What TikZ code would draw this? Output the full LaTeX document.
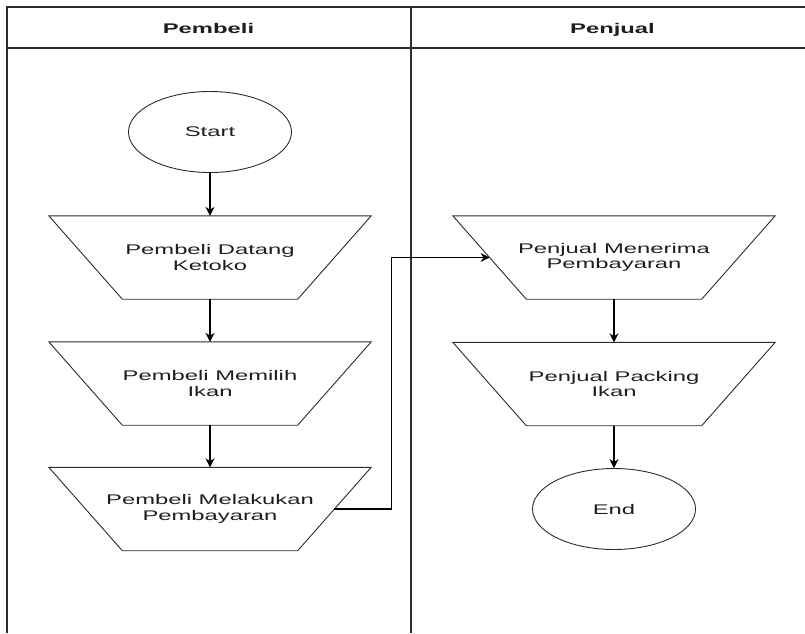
\documentclass[tikz,border=0pt]{standalone}
\usepackage{fontspec}
\setmainfont{Liberation Sans}
\newfontfamily\flowfont[FakeStretch=1.7]{Liberation Sans}
\usetikzlibrary{arrows.meta,shapes.geometric}
\definecolor{lineGray}{HTML}{2B2B2B}
\definecolor{textGray}{HTML}{1E1E1E}

\begin{document}
\begin{tikzpicture}[x=1pt,y=-1pt,
  every node/.style={font=\flowfont\fontsize{14}{15.5}\selectfont,align=center,text=textGray},
  term/.style={ellipse,draw=lineGray,line width=0.9pt,minimum width=163pt,minimum height=81pt,inner sep=0pt},
  proc/.style={minimum width=322pt,minimum height=83pt,inner sep=0pt},
  lane/.style={font=\flowfont\bfseries\fontsize{14}{15.5}\selectfont,anchor=base},
  arr/.style={-{Stealth[length=9pt,width=9pt]},line width=1.1pt,draw=black}]
  \clip (0,0) rectangle (805,633);
  % swimlanes
  \draw[line width=1.2pt,draw=lineGray] (7,633) -- (7,7) -- (815,7);
  \draw[line width=1.2pt,draw=lineGray] (7,48) -- (815,48);
  \draw[line width=1.2pt,draw=lineGray] (411,7) -- (411,633);
  \node[lane] (hBuy) at (208.5,33) {Pembeli};
  \node[lane] (hSell) at (612.5,33) {Penjual};

  % pembeli
  \node[term] (start) at (210,132) {Start};
  \node[proc] (d1) at (210,257.5) {Pembeli Datang\\Ketoko};
  \node[proc] (d2) at (210,383.5) {Pembeli Memilih\\Ikan};
  \node[proc] (d3) at (210,509) {Pembeli Melakukan\\Pembayaran};

  % penjual
  \node[proc] (m1) at (614,257.5) {Penjual Menerima\\Pembayaran};
  \node[proc] (m2) at (614,384) {Penjual Packing\\Ikan};
  \node[term] (end) at (614,509) {End};

  \foreach \n in {d1,d2,d3,m1,m2}
    \draw[draw=lineGray,line width=0.9pt] (\n.north west) -- (\n.north east)
      -- ([xshift=-73.5pt]\n.south east) -- ([xshift=73.5pt]\n.south west) -- cycle;

  \draw[arr] (start) -- (d1);
  \draw[arr] (d1) -- (d2);
  \draw[arr] (d2) -- (d3);
  \draw[arr] (m1) -- (m2);
  \draw[arr] (m2) -- (end);

  \coordinate (payOut) at ([xshift=-36.75pt]d3.east);
  \coordinate (payIn) at ([xshift=36.75pt]m1.west);
  \draw[arr] (payOut) -- ++(57,0) |- (payIn);
\end{tikzpicture}
\end{document}
